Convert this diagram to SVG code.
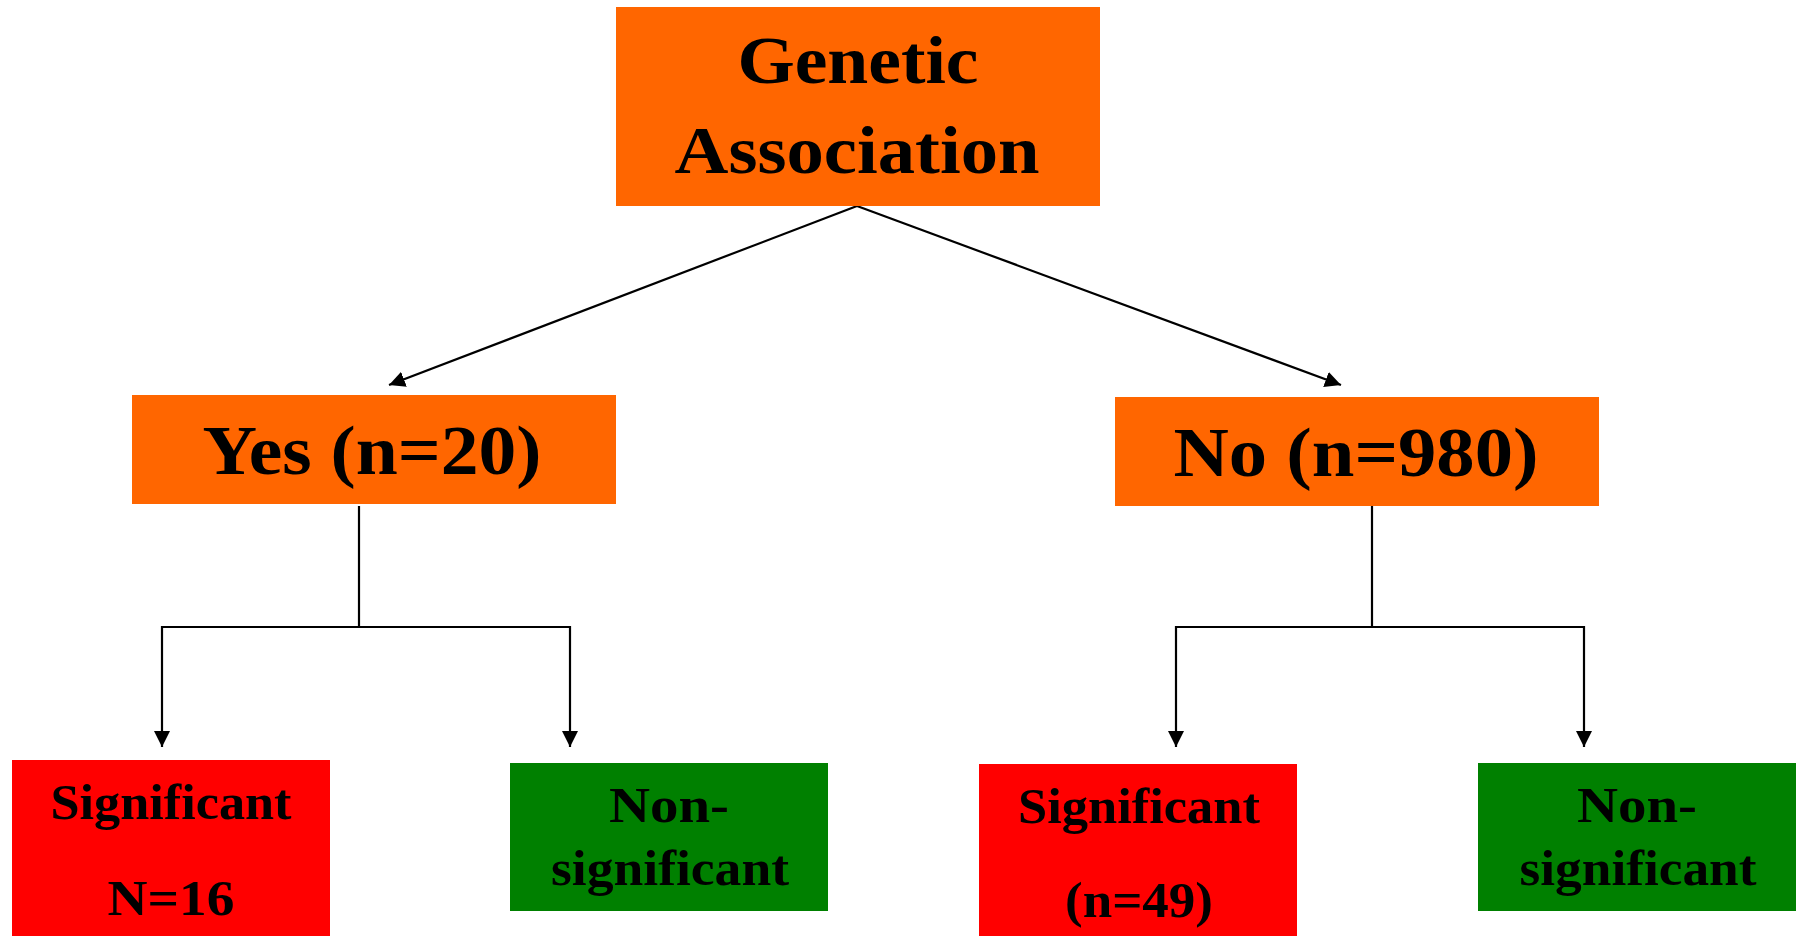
<svg xmlns="http://www.w3.org/2000/svg" width="1800" height="936" viewBox="0 0 1800 936">
<style>
.orange{fill:#FF6600}
.red{fill:#FF0000}
.green{fill:#008000}
text{font-family:"Liberation Serif","Times New Roman",serif;font-weight:bold;fill:#000;text-anchor:middle}
.t1{font-size:68px}
.t2{font-size:70px}
.t3{font-size:50px}
.conn{stroke:#000;stroke-width:2.2;fill:none}
</style>
<defs>
<marker id="arr" markerUnits="userSpaceOnUse" markerWidth="18" markerHeight="16" refX="16" refY="8" orient="auto">
<path d="M0,0 L16,8 L0,16 z" fill="#000"/>
</marker>
</defs>
<rect width="1800" height="936" fill="#fff"/>
<g id="connectors">
<line class="conn" x1="857" y1="206" x2="389" y2="385" marker-end="url(#arr)"/>
<line class="conn" x1="857" y1="206" x2="1341" y2="385" marker-end="url(#arr)"/>
<polyline class="conn" points="359,506 359,627"/>
<polyline class="conn" points="162,627 570,627"/>
<line class="conn" x1="162" y1="626" x2="162" y2="747" marker-end="url(#arr)"/>
<line class="conn" x1="570" y1="626" x2="570" y2="747" marker-end="url(#arr)"/>
<polyline class="conn" points="1372,506 1372,627"/>
<polyline class="conn" points="1176,627 1584,627"/>
<line class="conn" x1="1176" y1="626" x2="1176" y2="747" marker-end="url(#arr)"/>
<line class="conn" x1="1584" y1="626" x2="1584" y2="747" marker-end="url(#arr)"/>
</g>
<g id="node-genetic">
<rect class="orange" x="616" y="7" width="484" height="199"/>
<text class="t1" x="858" y="83" textLength="241" lengthAdjust="spacingAndGlyphs">Genetic</text>
<text class="t1" x="857" y="173" textLength="365" lengthAdjust="spacingAndGlyphs">Association</text>
</g>
<g id="node-yes">
<rect class="orange" x="132" y="395" width="484" height="109"/>
<text class="t2" x="372" y="474" textLength="339" lengthAdjust="spacingAndGlyphs">Yes (n=20)</text>
</g>
<g id="node-no">
<rect class="orange" x="1115" y="397" width="484" height="109"/>
<text class="t2" x="1356" y="476" textLength="365" lengthAdjust="spacingAndGlyphs">No (n=980)</text>
</g>
<g id="node-sig-yes">
<rect class="red" x="12" y="760" width="318" height="176"/>
<text class="t3" x="171" y="819" textLength="241" lengthAdjust="spacingAndGlyphs">Significant</text>
<text class="t3" x="171" y="915" textLength="127" lengthAdjust="spacingAndGlyphs">N=16</text>
</g>
<g id="node-nonsig-yes">
<rect class="green" x="510" y="763" width="318" height="148"/>
<text class="t3" x="669" y="822" textLength="120" lengthAdjust="spacingAndGlyphs">Non-</text>
<text class="t3" x="670" y="885" textLength="238" lengthAdjust="spacingAndGlyphs">significant</text>
</g>
<g id="node-sig-no">
<rect class="red" x="979" y="764" width="318" height="172"/>
<text class="t3" x="1139" y="823" textLength="242" lengthAdjust="spacingAndGlyphs">Significant</text>
<text class="t3" x="1139" y="917" textLength="148" lengthAdjust="spacingAndGlyphs">(n=49)</text>
</g>
<g id="node-nonsig-no">
<rect class="green" x="1478" y="763" width="318" height="148"/>
<text class="t3" x="1637" y="822" textLength="120" lengthAdjust="spacingAndGlyphs">Non-</text>
<text class="t3" x="1638" y="885" textLength="237" lengthAdjust="spacingAndGlyphs">significant</text>
</g>
</svg>
